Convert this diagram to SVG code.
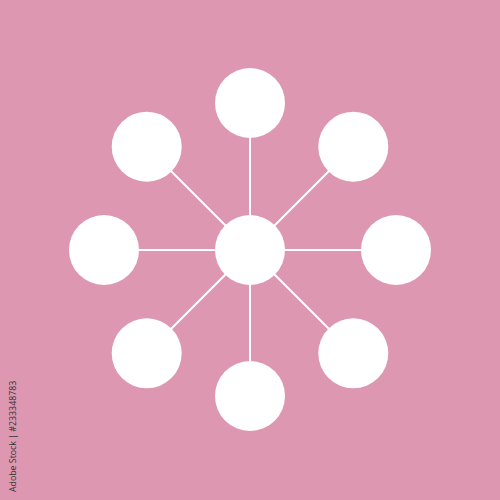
<svg xmlns="http://www.w3.org/2000/svg" width="500" height="500" viewBox="0 0 500 500">
<style>
.node{fill:#ffffff}
.edge{stroke:#ffffff;stroke-width:2;fill:none}
.credit{font-family:"Open Sans","Liberation Sans",sans-serif;font-size:8.8px;fill:#333333}
</style>
<rect width="500" height="500" fill="#de97b1"/>
<g id="connectors">
<line class="edge" x1="250" y1="250" x2="250" y2="103"/>
<line class="edge" x1="250" y1="250" x2="250" y2="396"/>
<line class="edge" x1="250" y1="250" x2="104" y2="250"/>
<line class="edge" x1="250" y1="250" x2="396" y2="250"/>
<line class="edge" x1="250" y1="250" x2="146.7" y2="146.7"/>
<line class="edge" x1="250" y1="250" x2="353.3" y2="146.7"/>
<line class="edge" x1="250" y1="250" x2="146.7" y2="353.3"/>
<line class="edge" x1="250" y1="250" x2="353.3" y2="353.3"/>
</g>
<g id="center"><circle class="node" cx="250" cy="250" r="35"/></g>
<g id="top"><circle class="node" cx="250" cy="103" r="35"/></g>
<g id="bottom"><circle class="node" cx="250" cy="396" r="35"/></g>
<g id="left"><circle class="node" cx="104" cy="250" r="35"/></g>
<g id="right"><circle class="node" cx="396" cy="250" r="35"/></g>
<g id="top-left"><circle class="node" cx="146.7" cy="146.7" r="35"/></g>
<g id="top-right"><circle class="node" cx="353.3" cy="146.7" r="35"/></g>
<g id="bottom-left"><circle class="node" cx="146.7" cy="353.3" r="35"/></g>
<g id="bottom-right"><circle class="node" cx="353.3" cy="353.3" r="35"/></g>
<text class="credit" transform="translate(15.5,492) rotate(-90)">Adobe Stock | #233348783</text>
</svg>
